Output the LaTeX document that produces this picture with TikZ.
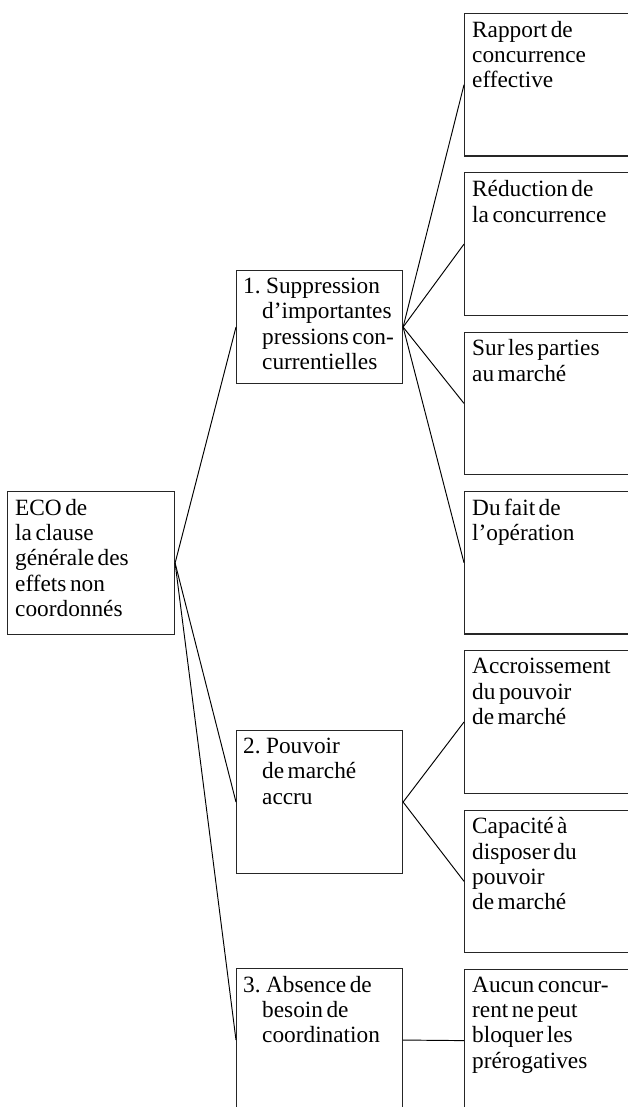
\documentclass[tikz,border=0pt]{standalone}
\usepackage{fontspec}
\setmainfont{Liberation Serif}[WordSpace=0.6]
\usetikzlibrary{calc}
\newcommand{\hangnum}{\hspace*{19pt}}
\begin{document}
\begin{tikzpicture}[x=1pt,y=-1pt,
  box/.style={draw=black!85, line width=1.1pt, inner sep=0pt, rectangle, anchor=north west},
  leftbox/.style={box, minimum width=167, minimum height=143},
  midbox/.style={box, minimum width=166, minimum height=143},
  rightbox/.style={box, minimum width=172, minimum height=142.5},
  txt/.style={anchor=north west, align=left, inner sep=0pt, font=\fontsize{23.3}{25.3}\selectfont},
  link/.style={draw=black, line width=0.95pt}]
\useasboundingbox (0,0) rectangle (628,1107);
\clip (0,0) rectangle (628,1107);

% root
\node[leftbox] (eco) at (7,491) {};
% middle level
\node[midbox, minimum height=113] (m1) at (236,270) {};
\node[midbox] (m2) at (236,730) {};
\node[midbox] (m3) at (236,968) {};
% leaves
\node[rightbox] (r1) at (464,13) {};
\node[rightbox] (r2) at (464,172.3) {};
\node[rightbox] (r3) at (464,331.6) {};
\node[rightbox] (r4) at (464,490.9) {};
\node[rightbox] (r5) at (464,650.2) {};
\node[rightbox] (r6) at (464,809.5) {};
\node[rightbox] (r7) at (464,968.8) {};

% labels
\node[txt] (eco-t) at ($(eco.north west)+(8,8)$) {ECO de\\la clause\\générale des\\effets non\\coordonnés};
\node[txt] (m1-t) at ($(m1.north west)+(7,8)$) {1. Suppression\\\hangnum d’importantes\\\hangnum pressions con-\\\hangnum currentielles};
\node[txt] (m2-t) at ($(m2.north west)+(7,8)$) {2. Pouvoir\\\hangnum de marché\\\hangnum accru};
\node[txt] (m3-t) at ($(m3.north west)+(7,8)$) {3. Absence de\\\hangnum besoin de\\\hangnum coordination};
\node[txt] (r1-t) at ($(r1.north west)+(8,8)$) {Rapport de\\concurrence\\effective};
\node[txt] (r2-t) at ($(r2.north west)+(8,8)$) {Réduction de\\la concurrence};
\node[txt] (r3-t) at ($(r3.north west)+(8,8)$) {Sur les parties\\au marché};
\node[txt] (r4-t) at ($(r4.north west)+(8,8)$) {Du fait de\\l’opération};
\node[txt] (r5-t) at ($(r5.north west)+(8,8)$) {Accroissement\\du pouvoir\\de marché};
\node[txt] (r6-t) at ($(r6.north west)+(8,8)$) {Capacité à\\disposer du\\pouvoir\\de marché};
\node[txt] (r7-t) at ($(r7.north west)+(8,8)$) {Aucun concur-\\rent ne peut\\bloquer les\\prérogatives};

% connectors
\draw[link] (eco.east) -- (m1.west);
\draw[link] (eco.east) -- (m2.west);
\draw[link] (eco.east) -- (m3.west);
\foreach \r in {r1,r2,r3,r4} \draw[link] (m1.east) -- (\r.west);
\foreach \r in {r5,r6} \draw[link] (m2.east) -- (\r.west);
\draw[link] (m3.east) -- (r7.west);
\end{tikzpicture}
\end{document}
